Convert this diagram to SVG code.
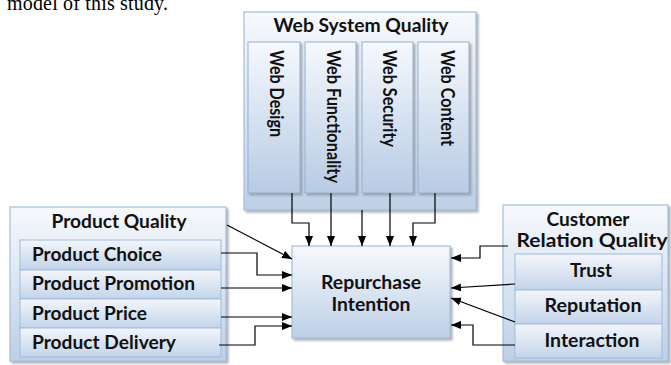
<svg xmlns="http://www.w3.org/2000/svg" width="671" height="365" viewBox="0 0 671 365">
<defs>
<linearGradient id="gOuter" x1="0" y1="0" x2="0" y2="1">
<stop offset="0" stop-color="#f7f9fc"/>
<stop offset="1" stop-color="#bdd0e7"/>
</linearGradient>
<linearGradient id="gInner" x1="0" y1="0" x2="0" y2="1">
<stop offset="0" stop-color="#f6f9fd"/>
<stop offset="1" stop-color="#b7cbe4"/>
</linearGradient>
<linearGradient id="gRow" x1="0" y1="0" x2="0" y2="1">
<stop offset="0" stop-color="#f3f6fb"/>
<stop offset="1" stop-color="#c3d4ea"/>
</linearGradient>
<filter id="sh" x="-10%" y="-10%" width="130%" height="130%">
<feDropShadow dx="2" dy="2" stdDeviation="1.2" flood-color="#7f7f7f" flood-opacity="0.6"/>
</filter>
<marker id="ah" markerUnits="userSpaceOnUse" markerWidth="10" markerHeight="10" viewBox="0 0 10 10" refX="10" refY="5" orient="auto">
<path d="M0,1 L10,5 L0,9 Z" fill="#000"/>
</marker>
</defs>
<style>
.outer{fill:url(#gOuter);stroke:#a4bedf;stroke-width:1.2;filter:url(#sh)}
.col{fill:url(#gInner);stroke:#91afd6;stroke-width:1;filter:url(#sh)}
.row{fill:url(#gRow);stroke:#9fbbdd;stroke-width:1}
.t{font-family:Lato,"Liberation Sans",sans-serif;font-weight:bold;font-size:18px;fill:#111}
.m{text-anchor:middle}
.c{fill:none;stroke:#000;stroke-width:1.2}
.a{marker-end:url(#ah)}
.cap{font-family:"Liberation Serif",serif;font-size:20px;fill:#000}
</style>

<text class="cap" x="7" y="10" textLength="161">model of this study.</text>

<g id="web-system-quality">
<rect class="outer" x="244" y="12" width="232" height="198"/>
<text class="t m" x="361" y="32" textLength="175" lengthAdjust="spacingAndGlyphs">Web System Quality</text>
</g>
<g id="web-design">
<rect class="col" x="248" y="42" width="52" height="151"/>
<text class="t" transform="translate(270,50) rotate(90)" textLength="87" lengthAdjust="spacingAndGlyphs">Web Design</text>
</g>
<g id="web-functionality">
<rect class="col" x="305" y="42" width="51" height="151"/>
<text class="t" transform="translate(327,50) rotate(90)" textLength="133" lengthAdjust="spacingAndGlyphs">Web Functionality</text>
</g>
<g id="web-security">
<rect class="col" x="362" y="42" width="51" height="151"/>
<text class="t" transform="translate(383,50) rotate(90)" textLength="97" lengthAdjust="spacingAndGlyphs">Web Security</text>
</g>
<g id="web-content">
<rect class="col" x="418" y="42" width="51" height="151"/>
<text class="t" transform="translate(441,50) rotate(90)" textLength="96" lengthAdjust="spacingAndGlyphs">Web Content</text>
</g>

<g id="product-quality">
<rect class="outer" x="10" y="207" width="216" height="154"/>
<text class="t m" x="119" y="228" textLength="135" lengthAdjust="spacingAndGlyphs">Product Quality</text>
</g>
<g id="product-choice">
<rect class="row" x="20" y="240" width="201" height="30"/>
<text class="t" x="32" y="261" textLength="130" lengthAdjust="spacingAndGlyphs">Product Choice</text>
</g>
<g id="product-promotion">
<rect class="row" x="20" y="270" width="201" height="29"/>
<text class="t" x="32" y="290" textLength="163" lengthAdjust="spacingAndGlyphs">Product Promotion</text>
</g>
<g id="product-price">
<rect class="row" x="20" y="299" width="201" height="29"/>
<text class="t" x="32" y="320" textLength="115" lengthAdjust="spacingAndGlyphs">Product Price</text>
</g>
<g id="product-delivery">
<rect class="row" x="20" y="328" width="201" height="29"/>
<text class="t" x="32" y="349" textLength="144" lengthAdjust="spacingAndGlyphs">Product Delivery</text>
</g>

<g id="customer-relation-quality">
<rect class="outer" x="503" y="205" width="165" height="156"/>
<text class="t m" x="588" y="226" textLength="83" lengthAdjust="spacingAndGlyphs">Customer</text>
<text class="t m" x="592" y="247" textLength="151" lengthAdjust="spacingAndGlyphs">Relation Quality</text>
</g>
<g id="trust">
<rect class="row" x="515" y="254" width="147" height="36"/>
<text class="t m" x="591" y="277" textLength="42" lengthAdjust="spacingAndGlyphs">Trust</text>
</g>
<g id="reputation">
<rect class="row" x="515" y="290" width="147" height="34"/>
<text class="t m" x="593" y="312" textLength="97" lengthAdjust="spacingAndGlyphs">Reputation</text>
</g>
<g id="interaction">
<rect class="row" x="515" y="324" width="147" height="34"/>
<text class="t m" x="592" y="347" textLength="95" lengthAdjust="spacingAndGlyphs">Interaction</text>
</g>

<g id="repurchase-intention">
<rect class="outer" x="292" y="246" width="158" height="92"/>
<text class="t m" x="371" y="289" textLength="100" lengthAdjust="spacingAndGlyphs">Repurchase</text>
<text class="t m" x="371" y="311" textLength="79" lengthAdjust="spacingAndGlyphs">Intention</text>
</g>

<g id="connectors">
<path class="c a" d="M292,193 V223 H309 V246"/>
<path class="c a" d="M331,193 V246"/>
<path class="c a" d="M362,210 V246"/>
<path class="c a" d="M390,193 V246"/>
<path class="c a" d="M435,193 V223 H413 V246"/>
<path class="c a" d="M227,225 L292,259"/>
<path class="c a" d="M221,253 H257 V275 H292"/>
<path class="c a" d="M221,288 H292"/>
<path class="c a" d="M221,317 H292"/>
<path class="c a" d="M219,345 H255 V326 H292"/>
<path class="c a" d="M508,246 H480 V258 H451"/>
<path class="c a" d="M515,284 L451,288"/>
<path class="c a" d="M515,322 L451,298"/>
<path class="c a" d="M515,345 H473 V325 H451"/>
</g>
</svg>
